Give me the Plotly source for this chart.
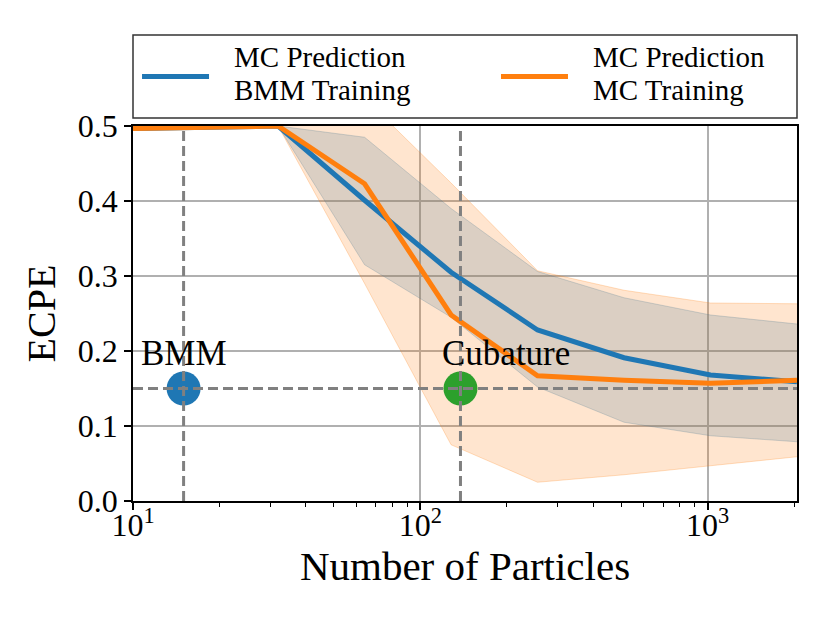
import numpy as np
import plotly.graph_objects as go

# ---- data ----
particles = [8, 16, 32, 64, 128, 256, 512, 1024, 2048]

bmm_mean  = [0.496, 0.498, 0.500, 0.401, 0.305, 0.228, 0.191, 0.168, 0.159]
bmm_upper = [0.496, 0.498, 0.500, 0.485, 0.390, 0.306, 0.271, 0.248, 0.236]
bmm_lower = [0.496, 0.498, 0.500, 0.315, 0.245, 0.152, 0.105, 0.087, 0.079]

mc_mean  = [0.496, 0.498, 0.500, 0.423, 0.248, 0.167, 0.161, 0.157, 0.161]
mc_upper = [0.496, 0.498, 0.500, 0.537, 0.424, 0.307, 0.281, 0.264, 0.263]
mc_lower = [0.496, 0.498, 0.500, 0.290, 0.075, 0.025, 0.035, 0.047, 0.059]

series_names = [["MC Prediction", "BMM Training"], ["MC Prediction", "MC Training"]]

ref_names = ["BMM", "Cubature"]
ref_particles = [15, 138]
ref_ecpe = [0.15, 0.15]
ref_colors = ["#1f77b4", "#2ca02c"]

x_range = [10, 2048]
y_range = [0.0, 0.5]
y_ticks = [0.0, 0.1, 0.2, 0.3, 0.4, 0.5]
x_major = [10, 100, 1000]
x_major_text = ["10<sup>1</sup>", "10<sup>2</sup>", "10<sup>3</sup>"]
x_minor = [m * d for d in (10, 100, 1000) for m in range(2, 10) if m * d <= 2048]

BLUE = "#1f77b4"
ORANGE = "#ff7f0e"
FONT = "Liberation Serif"

fig = go.Figure()

# bands
fig.add_trace(go.Scatter(x=particles, y=bmm_upper, mode="lines",
                         line=dict(color="rgba(31,119,180,0.25)", width=1),
                         showlegend=False, hoverinfo="skip"))
fig.add_trace(go.Scatter(x=particles, y=bmm_lower, mode="lines", fill="tonexty",
                         fillcolor="rgba(31,119,180,0.2)",
                         line=dict(color="rgba(31,119,180,0.25)", width=1),
                         showlegend=False, hoverinfo="skip"))
fig.add_trace(go.Scatter(x=particles, y=mc_upper, mode="lines",
                         line=dict(color="rgba(255,127,14,0.25)", width=1),
                         showlegend=False, hoverinfo="skip"))
fig.add_trace(go.Scatter(x=particles, y=mc_lower, mode="lines", fill="tonexty",
                         fillcolor="rgba(255,127,14,0.2)",
                         line=dict(color="rgba(255,127,14,0.25)", width=1),
                         showlegend=False, hoverinfo="skip"))

# mean lines
fig.add_trace(go.Scatter(x=particles, y=bmm_mean, mode="lines",
                         line=dict(color=BLUE, width=5),
                         name=" ".join(series_names[0]), showlegend=False))
fig.add_trace(go.Scatter(x=particles, y=mc_mean, mode="lines",
                         line=dict(color=ORANGE, width=5),
                         name=" ".join(series_names[1]), showlegend=False))

# reference markers
fig.add_trace(go.Scatter(x=ref_particles, y=ref_ecpe, mode="markers",
                         marker=dict(color=ref_colors, size=34, line=dict(width=0)),
                         showlegend=False, cliponaxis=False))

# dashed guide lines
DASH = dict(color="#808080", width=3, dash="10px,5px")
for xp in ref_particles:
    fig.add_trace(go.Scatter(x=[xp, xp], y=y_range, mode="lines", line=DASH,
                             showlegend=False, hoverinfo="skip"))
fig.add_trace(go.Scatter(x=x_range, y=[ref_ecpe[0], ref_ecpe[0]], mode="lines",
                         line=DASH, showlegend=False, hoverinfo="skip"))

# labels
for name, xp, yp, xs in zip(ref_names, ref_particles, ref_ecpe, [0, 46]):
    fig.add_annotation(x=np.log10(xp), y=yp, xref="x", yref="y", text=name,
                       showarrow=False, xshift=xs, yshift=35,
                       font=dict(family=FONT, size=35, color="black"))

# legend (drawn manually above the plot)
fig.add_shape(type="rect", xref="paper", yref="paper", x0=0, x1=1, y0=1.0213, y1=1.2427,
              line=dict(color="#333333", width=1.5), fillcolor="white", layer="above")
leg_sym_x = [(0.0136, 0.1145), (0.5542, 0.6551)]
leg_txt_x = [0.1491, 0.6898]
for (x0, x1), tx, col, lines in zip(leg_sym_x, leg_txt_x, [BLUE, ORANGE], series_names):
    fig.add_shape(type="line", xref="paper", yref="paper", x0=x0, x1=x1, y0=1.132, y1=1.132,
                  line=dict(color=col, width=5), layer="above")
    for ty, txt in zip([1.1827, 1.0973], lines):
        fig.add_annotation(xref="paper", yref="paper", x=tx, y=ty, text=txt,
                           xanchor="left", yanchor="middle", showarrow=False,
                           font=dict(family=FONT, size=29, color="black"))

fig.update_layout(
    width=830, height=623,
    margin=dict(l=125, r=41, t=118, b=130, autoexpand=False),
    paper_bgcolor="white", plot_bgcolor="white",
    font=dict(family=FONT, size=32, color="black"),
    showlegend=False,
)
fig.update_xaxes(
    type="log", range=[np.log10(x_range[0]), np.log10(x_range[1])],
    tickmode="array", tickvals=x_major, ticktext=x_major_text,
    ticks="outside", ticklen=7, tickwidth=1.5, tickcolor="black",
    showline=True, linecolor="black", linewidth=1.8, mirror=True,
    showgrid=True, gridcolor="#b0b0b0", gridwidth=1.5,
    tickfont=dict(family=FONT, size=32), ticklabelstandoff=-12,
    minor=dict(tickmode="array", tickvals=x_minor, ticks="outside", ticklen=4,
               tickwidth=1.2, tickcolor="black", showgrid=False),
    title=dict(text="Number of Particles", font=dict(family=FONT, size=41), standoff=4),
    zeroline=False, automargin=False,
)
fig.update_yaxes(
    range=y_range, tickmode="array", tickvals=y_ticks, tickformat=".1f",
    ticks="outside", ticklen=7, tickwidth=1.5, tickcolor="black",
    showline=True, linecolor="black", linewidth=1.8, mirror=True,
    showgrid=True, gridcolor="#b0b0b0", gridwidth=1.5,
    tickfont=dict(family=FONT, size=32),
    title=dict(text="ECPE", font=dict(family=FONT, size=40), standoff=10),
    zeroline=False, automargin=False,
)

fig.write_html("out.html")
